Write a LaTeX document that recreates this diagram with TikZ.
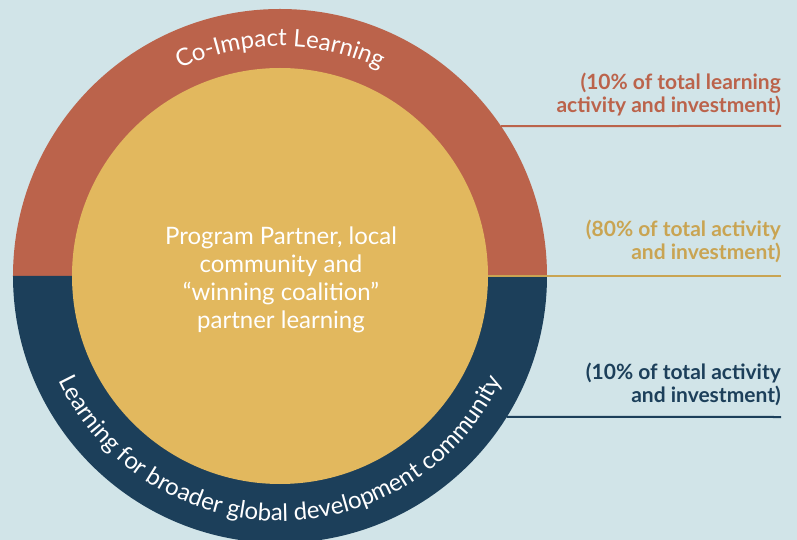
\documentclass[tikz,border=0pt]{standalone}
\usepackage{fontspec}
\setmainfont{Lato}
\usetikzlibrary{decorations.text}
\definecolor{coSky}{HTML}{D1E4E8}
\definecolor{coRed}{HTML}{BB634B}
\definecolor{coNavy}{HTML}{1C3F5A}
\definecolor{coGold}{HTML}{E2B85E}
\definecolor{coGoldText}{HTML}{C9A452}
\tikzset{
  share/.style={anchor=base east,align=right,inner sep=0pt,font=\fontsize{21}{23}\selectfont\bfseries},
  leader/.style={line width=2pt},
  ringtext/.style={decorate,decoration={text along path,text align=center,text={|\fontsize{24}{24}\selectfont\color{white}|#1}}},
}
\begin{document}
\begin{tikzpicture}[x=1pt,y=1pt]
    \clip (-280,-264) rectangle (517,276);
    \fill[coSky] (-280,-264) rectangle (517,276);
    \coordinate (O) at (0,0);
    % outer ring in two halves, gold core on top
    \fill[coRed] (180:267) arc[start angle=180,end angle=0,radius=267] -- cycle;
    \fill[coNavy] (180:267) arc[start angle=180,end angle=360,radius=267] -- cycle;
    \fill[coGold] (O) circle[radius=208];
    \path[ringtext={Co-Impact Learning}] (180:230) arc[start angle=180,end angle=0,radius=230];
    \path[ringtext={Learning for broader global development community}] (180:245) arc[start angle=180,end angle=360,radius=245];
    \node[align=center,inner sep=0pt,text=white,font=\fontsize{24}{28}\selectfont] (core) at (1,-4) {Program Partner, local\\community and\\``winning coalition''\\partner learning};
    % leader lines
    \coordinate (redA) at ({asin(150/267)}:267);
    \coordinate (redB) at (501,150);
    \draw[leader,coRed] (redA) -- (redB);
    \coordinate (goldA) at (0:208);
    \coordinate (goldB) at (501,0);
    \draw[leader,coGoldText] (goldA) -- (goldB);
    \coordinate (navyA) at ({-asin(141/267)}:267);
    \coordinate (navyB) at (501,-141);
    \draw[leader,coNavy] (navyA) -- (navyB);
    \node[share,text=coRed] (redtxt) at (501,163) {(10\% of total learning\\activity and investment)};
    \node[share,text=coGoldText] (goldtxt) at (501,16) {(80\% of total activity\\and investment)};
    \node[share,text=coNavy] (navytxt) at (501,-126) {(10\% of total activity\\and investment)};
\end{tikzpicture}
\end{document}
